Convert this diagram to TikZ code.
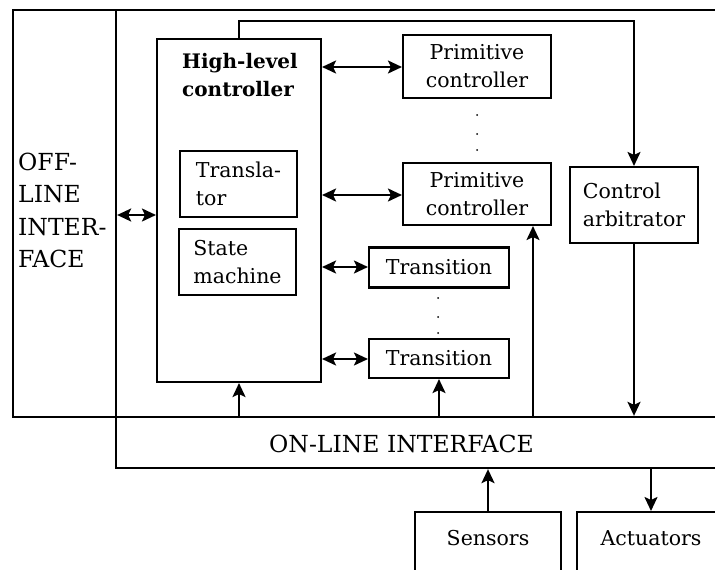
\documentclass[tikz,border=0pt]{standalone}
\usepackage{fontspec}
\setmainfont{DejaVuSerif.ttf}[BoldFont=DejaVuSerif-Bold.ttf]
\usetikzlibrary{arrows.meta}

\begin{document}
\begin{tikzpicture}[x=1pt,y=-1pt,
  font=\fontsize{20.5}{28}\selectfont,
  big/.style={font=\fontsize{23.5}{32.5}\selectfont},
  box/.style={draw, line width=2.1pt, inner sep=0pt},
  area/.style={draw, line width=2.3pt, inner sep=0pt},
  tip/.tip={Stealth[length=14pt,width=13pt,inset=3pt]},
  link/.style={line width=2.1pt, -tip},
  twoway/.style={line width=2.1pt, tip-tip},
  dot/.style={circle, fill, inner sep=0pt, minimum size=2pt}]
\useasboundingbox (0,0) rectangle (715,570);
\clip (0,0) rectangle (715,570);

% outer frames
\node[area, minimum width=103pt, minimum height=407pt] (off) at (64.5,213.5) {};
\node[big, anchor=west, align=left, inner sep=0pt] (offtext) at (18,210.5) {OFF-\\LINE\\INTER-\\FACE};
\node[area, minimum width=614pt, minimum height=407pt] (main) at (423,213.5) {};
\node[area, minimum width=614pt, minimum height=51pt] (online) at (423,442.5) {};
\node[big] (ontext) at (401.5,444) {ON-LINE INTERFACE};

% high-level controller
\node[box, minimum width=164pt, minimum height=343pt] (hlc) at (239,210.5) {};
\node[anchor=north west, align=left, inner sep=0pt, font=\fontsize{20}{28}\selectfont\bfseries] (hlctext) at (182,53) {High-level\\controller};
\node[box, minimum width=117pt, minimum height=66pt, align=left] (tr) at (238.5,184) {Transla-\\tor};
\node[box, minimum width=117pt, minimum height=66pt, align=left] (sm) at (237.5,262) {State\\machine};

% primitive controllers
\node[box, minimum width=148pt, minimum height=63pt, align=center] (pc1) at (477,66.5) {Primitive\\controller};
\node[box, minimum width=148pt, minimum height=62pt, align=center] (pc2) at (477,194) {Primitive\\controller};
\node[dot] (pd1) at (477,115) {};
\node[dot] (pd2) at (477,134) {};
\node[dot] (pd3) at (477,150) {};

% transitions
\node[box, minimum width=140pt, minimum height=40pt] (t1) at (439,267.5) {Transition};
\node[box, minimum width=140pt, minimum height=39pt] (t2) at (439,358.5) {Transition};
\node[dot] (td1) at (438,298) {};
\node[dot] (td2) at (438,317) {};
\node[dot] (td3) at (438,333) {};

% control arbitrator
\node[box, minimum width=128pt, minimum height=76pt, align=left] (ca) at (634,205) {Control\\arbitrator};

% sensors and actuators
\node[box, minimum width=146pt, minimum height=100pt, anchor=north] (sens) at (488,511) {};
\node (senstext) at (488,538) {Sensors};
\node[box, minimum width=148pt, minimum height=100pt, anchor=north] (act) at (651,511) {};
\node (acttext) at (651,538) {Actuators};

% connectors
\draw[twoway] (off.east |- 0,215) -- (hlc.west |- 0,215);
\draw[twoway] (hlc.east |- 0,67) -- (pc1.west |- 0,67);
\draw[twoway] (hlc.east |- 0,195) -- (pc2.west |- 0,195);
\draw[twoway] (hlc.east |- 0,267) -- (t1.west |- 0,267);
\draw[twoway] (hlc.east |- 0,359) -- (t2.west |- 0,359);
\draw[link] (hlc.north) -- (hlc.north |- 0,21) -| (ca.north);
\draw[link] (ca.south) -- (ca.south |- online.north);
\draw[link] (hlc.south |- online.north) -- (hlc.south);
\draw[link] (t2.south |- online.north) -- (t2.south);
\draw[link] ([xshift=56pt]pc2.south |- online.north) -- ([xshift=56pt]pc2.south);
\draw[link] (sens.north) -- (sens.north |- online.south);
\draw[link] (act.north |- online.south) -- (act.north);
\end{tikzpicture}
\end{document}
